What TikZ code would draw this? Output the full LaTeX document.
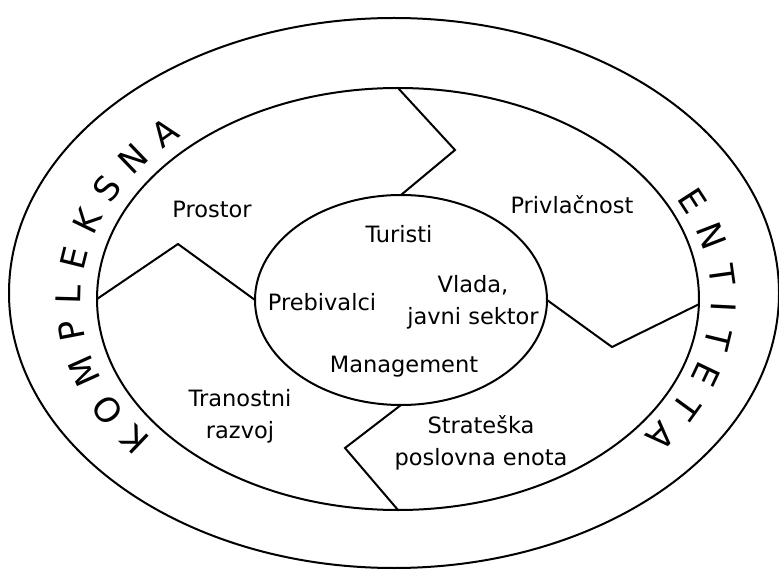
\documentclass[tikz,border=0pt]{standalone}
\usepackage{fontspec}
\setmainfont{DejaVu Sans}
\usetikzlibrary{shapes.geometric,decorations.text,calc}
\newcommand\curvefont{\fontsize{34}{40}\selectfont}
\begin{document}
\begin{tikzpicture}[x=1pt,y=1pt,
  ring/.style={draw, ellipse, line width=2pt, inner sep=0pt, outer sep=0pt},
  zig/.style={line width=2pt, line join=miter},
  lab/.style={font=\fontsize{22.5}{32}\selectfont, align=center, inner sep=0pt},
  curvetext/.style={decorate, decoration={text along path, text={|\curvefont|#1}, text align={fit to path}}}
]
\useasboundingbox (0,0) rectangle (779,571);
\node[ring, minimum width=770, minimum height=550] (outer) at (394,278) {};
\node[ring, minimum width=602, minimum height=422] (mid) at (398,272) {};
\node[ring, minimum width=292, minimum height=210] (inn) at (401,271) {};

\coordinate (z1) at (455,421);
\coordinate (z2) at (178,327);
\coordinate (z3) at (612,224);
\coordinate (z4) at (345,123);
\draw[zig] (mid.north) -- (z1) -- (inn.north);
\draw[zig] (mid.west) -- (z2) -- (inn.west);
\draw[zig] (inn.east) -- (z3) -- (mid.359);
\draw[zig] (inn.south) -- (z4) -- (mid.south);

\coordinate (tc) at (396,272);
\path[curvetext=KOMPLEKSNA] ($(tc)+(219:315 and 222)$) arc[start angle=219, end angle=133, x radius=315, y radius=222];
\path[curvetext=ENTITETA] ($(tc)+(27:315 and 222)$) arc[start angle=27, end angle=-38, x radius=315, y radius=222];

\node[lab] (prostor) at (212,362) {Prostor};
\node[lab] (privl) at (572,366) {Privlačnost};
\node[lab] (turisti) at (399,337) {Turisti};
\node[lab] (prebiv) at (322,269) {Prebivalci};
\node[lab] (vlada) at (473,269) {Vlada,\\javni sektor};
\node[lab] (mgmt) at (404,204) {Management};
\node[lab] (tran) at (240,155) {Tranostni\\razvoj};
\node[lab] (strat) at (481,128) {Strateška\\poslovna enota};
\end{tikzpicture}
\end{document}
